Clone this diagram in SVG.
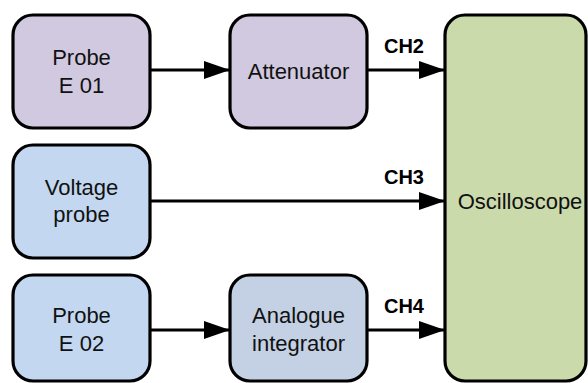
<svg xmlns="http://www.w3.org/2000/svg" width="588" height="383" viewBox="0 0 588 383">
<style>
.box{stroke:#000;stroke-width:3.2}
.t{font-family:"Liberation Sans",Arial,sans-serif;font-size:22px;fill:#111;text-anchor:middle}
.ch{font-family:"Liberation Sans",Arial,sans-serif;font-size:20px;font-weight:bold;fill:#000;text-anchor:middle}
.c{stroke:#000;stroke-width:3.2;fill:none;marker-end:url(#ah)}
</style>
<defs>
<marker id="ah" markerUnits="userSpaceOnUse" markerWidth="26" markerHeight="20" refX="26" refY="9" orient="auto">
<path d="M0,0 L26,9 L0,18 Z" fill="#000"/>
</marker>
</defs>
<rect width="588" height="383" fill="#fff"/>
<g id="connectors">
<line class="c" x1="150" y1="70" x2="230" y2="70"/>
<line class="c" x1="367" y1="70" x2="445" y2="70"/>
<line class="c" x1="150" y1="201" x2="445" y2="201"/>
<line class="c" x1="150" y1="330" x2="230" y2="330"/>
<line class="c" x1="367" y1="330" x2="445" y2="330"/>
<text class="ch" x="404" y="53">CH2</text>
<text class="ch" x="404" y="184">CH3</text>
<text class="ch" x="404" y="313">CH4</text>
</g>
<g id="probe-e01">
<rect class="box" x="13" y="15" width="137" height="113" rx="20" fill="#D1C9E0"/>
<text class="t" x="81.5" y="65">Probe</text>
<text class="t" x="81.5" y="93">E 01</text>
</g>
<g id="attenuator">
<rect class="box" x="230" y="15" width="137" height="113" rx="20" fill="#D1C9E0"/>
<text class="t" x="298.5" y="79">Attenuator</text>
</g>
<g id="voltage-probe">
<rect class="box" x="13" y="145" width="137" height="113" rx="20" fill="#C3D8F0"/>
<text class="t" x="81.5" y="195">Voltage</text>
<text class="t" x="81.5" y="222">probe</text>
</g>
<g id="probe-e02">
<rect class="box" x="13" y="275" width="137" height="106" rx="20" fill="#C3D8F0"/>
<text class="t" x="81.5" y="323">Probe</text>
<text class="t" x="81.5" y="351">E 02</text>
</g>
<g id="analogue-integrator">
<rect class="box" x="230" y="275" width="137" height="106" rx="20" fill="#C4D0E3"/>
<text class="t" x="298.5" y="323">Analogue</text>
<text class="t" x="298.5" y="351">integrator</text>
</g>
<g id="oscilloscope">
<rect class="box" x="445" y="15" width="141" height="366" rx="20" fill="#CBDAAB"/>
<text class="t" x="520" y="209">Oscilloscope</text>
</g>
</svg>
